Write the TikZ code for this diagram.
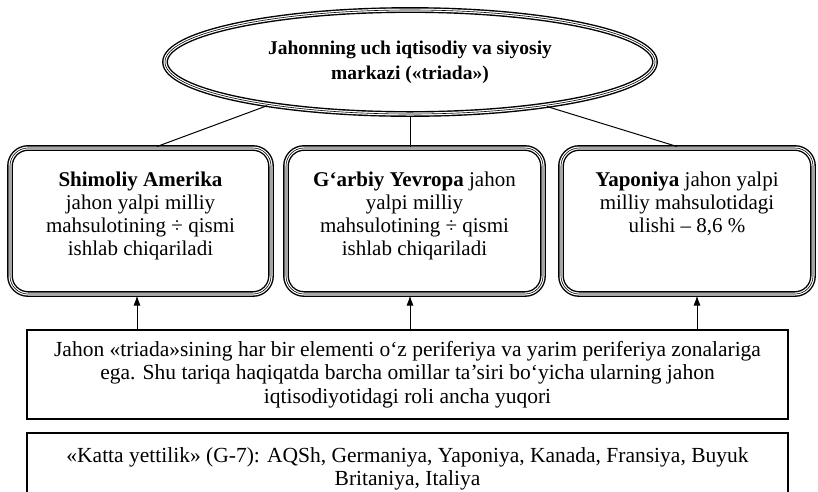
\documentclass[tikz,border=0pt]{standalone}
\usepackage{fontspec}
\setmainfont{Liberation Serif}
\usetikzlibrary{shapes.geometric,arrows.meta,calc}
\begin{document}
\begin{tikzpicture}[x=1pt,y=-1pt,
  triple/.style={preaction={draw=black, line width=5.8pt}, draw=white, line width=3pt,
                 postaction={draw=black, line width=0.6pt}},
  topbox/.style={triple, rounded corners=18pt, minimum height=146pt, inner sep=0pt},
  oval/.style={triple, ellipse, minimum width=490pt, minimum height=104pt, inner sep=0pt,
               align=center, font=\fontsize{19.5}{25}\selectfont\bfseries},
  plainbox/.style={draw=black, line width=1.1pt, inner sep=0pt, align=center,
                   font=\fontsize{21.5}{23.5}\selectfont},
  conn/.style={draw=black, line width=1pt},
  arr/.style={draw=black, line width=1pt, -{Latex[length=10pt,width=7pt]}}
]
\useasboundingbox (0,0) rectangle (818,491);
\fill[white] (0,0) rectangle (818,491);

\node[oval] (e) at (410,62) {Jahonning uch iqtisodiy va siyosiy\\ markazi («triada»)};

\node[topbox, minimum width=261pt] (l) at (140.5,221)
  {\parbox[c][98pt][t]{250pt}{\centering\fontsize{21}{23}\selectfont
   \textbf{Shimoliy Amerika}\\ jahon yalpi milliy\\ mahsulotining ÷ qismi\\ ishlab chiqariladi}};
\node[topbox, minimum width=257pt] (m) at (414.5,221)
  {\parbox[c][98pt][t]{250pt}{\centering\fontsize{21}{23}\selectfont
   \textbf{G‘arbiy Yevropa} jahon\\ yalpi milliy\\ mahsulotining ÷ qismi\\ ishlab chiqariladi}};
\node[topbox, minimum width=252pt] (r) at (687,221)
  {\parbox[c][98pt][t]{245pt}{\centering\fontsize{21}{23}\selectfont
   \textbf{Yaponiya} jahon yalpi\\ milliy mahsulotidagi\\ ulishi – 8,6 \%}};

\node[plainbox, minimum width=761pt, minimum height=89pt] (b1) at (407.5,374.5)
  {Jahon «triada»sining har bir elementi o‘z periferiya va yarim periferiya zonalariga\\
   ega. Shu tariqa haqiqatda barcha omillar ta’siri bo‘yicha ularning jahon\\
   iqtisodiyotidagi roli ancha yuqori};
\node[plainbox, minimum width=761pt, minimum height=72pt] (b2) at (407.5,469)
  {«Katta yettilik» (G-7): AQSh, Germaniya, Yaponiya, Kanada, Fransiya, Buyuk\\
   Britaniya, Italiya};

\coordinate (xa) at (157,0);
\coordinate (xb) at (677,0);
\coordinate (xl) at (137,0);
\coordinate (xm) at (410,0);
\coordinate (xr) at (697,0);

\draw[conn] (e.197) -- (l.north -| xa);
\draw[conn] (e.south) -- (m.north -| xm);
\draw[conn] (e.342) -- (r.north -| xb);

\draw[arr] (b1.north -| xl) -- (l.south -| xl);
\draw[arr] (b1.north -| xm) -- (m.south -| xm);
\draw[arr] (b1.north -| xr) -- (r.south -| xr);
\end{tikzpicture}
\end{document}
